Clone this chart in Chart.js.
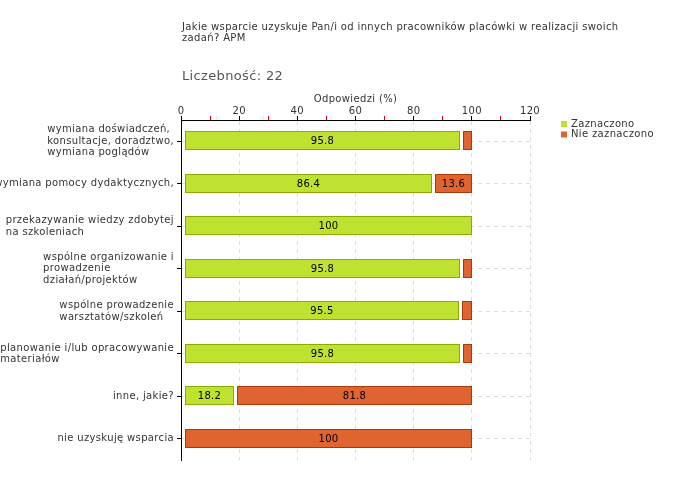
<!DOCTYPE html>
<html>
<head>
<meta charset="utf-8">
<script src="https://cdn.jsdelivr.net/npm/chart.js@4"></script>
<style>
  body { margin: 0; background: #fff; }
</style>
</head>
<body>
<canvas id="myChart" width="680" height="480"></canvas>
<script>
const titleLines = ['Jakie wsparcie uzyskuje Pan/i od innych pracowników placówki w realizacji swoich', 'zadań? APM'];
const countText = 'Liczebność: 22';
const categories = [
    ['wymiana doświadczeń,', 'konsultacje, doradztwo,', 'wymiana poglądów'],
    ['wymiana pomocy dydaktycznych,'],
    ['przekazywanie wiedzy zdobytej', 'na szkoleniach'],
    ['wspólne organizowanie i', 'prowadzenie', 'działań/projektów'],
    ['wspólne prowadzenie', 'warsztatów/szkoleń'],
    ['planowanie i/lub opracowywanie', 'materiałów'],
    ['inne, jakie?'],
    ['nie uzyskuję wsparcia']
];
const zaznaczono = [95.8, 86.4, 100, 95.8, 95.5, 95.8, 18.2, 0];
const nieZaznaczono = [4.2, 13.6, 0, 4.2, 4.5, 4.2, 81.8, 100];

const FONT = 'DejaVu Sans';
const SPACING = '0.35px';
const green = '#bfe130', greenBorder = '#8aac00';
const orange = '#e06430', orangeBorder = '#ad380c';

// odstęp między segmentami + wyrównanie do pikseli
const barGaps = {
    id: 'barGaps',
    afterDatasetsUpdate(chart) {
        const zero = chart.scales.x.getPixelForValue(0);
        chart.data.datasets.forEach((ds, i) => {
            chart.getDatasetMeta(i).data.forEach(el => {
                el.y = Math.round(el.y) - 0.5;
                if (Math.abs(el.x - el.base) < 0.5) return;
                const gap = Math.abs(el.base - zero) < 0.5 ? 1 : 3;
                el.base = Math.round(el.base) + gap;
                el.x = Math.round(el.x);
            });
        });
    }
};

const spacing = {
    id: 'spacing',
    beforeDraw(chart) { chart.ctx.letterSpacing = SPACING; },
    afterDraw(chart) { chart.ctx.letterSpacing = '0px'; }
};

const valueLabels = {
    id: 'valueLabels',
    afterDatasetsDraw(chart) {
        const ctx = chart.ctx;
        ctx.save();
        ctx.font = '10px "' + FONT + '"';
        ctx.fillStyle = '#000';
        ctx.textAlign = 'center';
        ctx.textBaseline = 'middle';
        chart.data.datasets.forEach((ds, i) => {
            chart.getDatasetMeta(i).data.forEach((el, j) => {
                const v = ds.data[j];
                if (v < 10) return;
                ctx.fillText(String(v), (el.x + el.base) / 2, el.y + 1);
            });
        });
        ctx.restore();
    }
};

const extras = {
    id: 'extras',
    afterDraw(chart) {
        const ctx = chart.ctx;
        const y = chart.scales.y;
        ctx.save();
        ctx.letterSpacing = SPACING;
        // tytuł
        ctx.fillStyle = '#333';
        ctx.font = '10px "' + FONT + '"';
        ctx.textBaseline = 'alphabetic';
        ctx.fillText(titleLines[0], 182, 30);
        ctx.fillText(titleLines[1], 182, 41);
        ctx.fillStyle = '#555';
        ctx.font = '13px "' + FONT + '"';
        ctx.fillText(countText, 182, 80);

        // etykiety kategorii
        ctx.font = '10px "' + FONT + '"';
        ctx.fillStyle = '#333';
        ctx.textBaseline = 'middle';
        const lh = 11.5;
        categories.forEach((lines, i) => {
            const cy = y.getPixelForTick(i);
            const w = Math.max(...lines.map(l => ctx.measureText(l).width));
            const x0 = chart.chartArea.left - 7 - w;
            lines.forEach((l, k) => {
                ctx.fillText(l, x0, cy + (k - (lines.length - 1) / 2) * lh);
            });
        });

        // legenda
        const lx = 561;
        chart.data.datasets.forEach((ds, i) => {
            const ly = 121 + i * 10.5;
            ctx.fillStyle = ds.backgroundColor;
            ctx.fillRect(lx, ly, 6, 6);
            ctx.fillStyle = '#333';
            ctx.fillText(ds.label, lx + 10, ly + 3);
        });
        ctx.restore();
    }
};

const ctx = document.getElementById('myChart').getContext('2d');
let chart = new Chart(ctx, {
    type: 'bar',
    data: {
        labels: categories,
        datasets: [{
            label: 'Zaznaczono',
            data: zaznaczono,
            backgroundColor: green,
            borderColor: greenBorder,
            borderWidth: 1,
            borderSkipped: false,
            inflateAmount: 0,
            barThickness: 19
        }, {
            label: 'Nie zaznaczono',
            data: nieZaznaczono,
            backgroundColor: orange,
            borderColor: orangeBorder,
            borderWidth: 1,
            borderSkipped: false,
            inflateAmount: 0,
            barThickness: 19
        }]
    },
    options: {
        indexAxis: 'y',
        responsive: false,
        animation: false,
        devicePixelRatio: 1,
        layout: {
            padding: { left: 181, right: 150, top: 90, bottom: 20 }
        },
        scales: {
            x: {
                position: 'top',
                stacked: true,
                min: 0,
                max: 120,
                afterFit: s => { s.height = 30; },
                ticks: {
                    stepSize: 10,
                    autoSkip: false,
                    maxRotation: 0,
                    padding: 0,
                    color: '#333',
                    font: { family: FONT, size: 10, lineHeight: 1 },
                    callback: v => v % 20 === 0 ? v : ''
                },
                grid: {
                    color: c => (c.tick && c.tick.value % 20 === 0 && c.tick.value !== 0) ? '#dcdcdc' : 'rgba(0,0,0,0)',
                    tickColor: c => (c.tick && c.tick.value % 20 === 0) ? '#000' : '#e00000',
                    tickLength: 4
                },
                border: { display: true, color: '#000', dash: [4, 4] },
                title: {
                    display: true,
                    text: 'Odpowiedzi (%)',
                    color: '#333',
                    font: { family: FONT, size: 10 },
                    padding: { top: 3, bottom: 0 }
                }
            },
            y: {
                stacked: true,
                afterFit: s => { s.width = 0; },
                ticks: { display: false },
                grid: {
                    offset: false,
                    color: '#dcdcdc',
                    tickColor: '#000',
                    tickLength: 4
                },
                border: { display: true, color: '#000', dash: [4, 4] }
            }
        },
        plugins: {
            legend: { display: false },
            tooltip: { enabled: false }
        }
    },
    plugins: [spacing, barGaps, valueLabels, extras]
});
</script>
</body>
</html>
